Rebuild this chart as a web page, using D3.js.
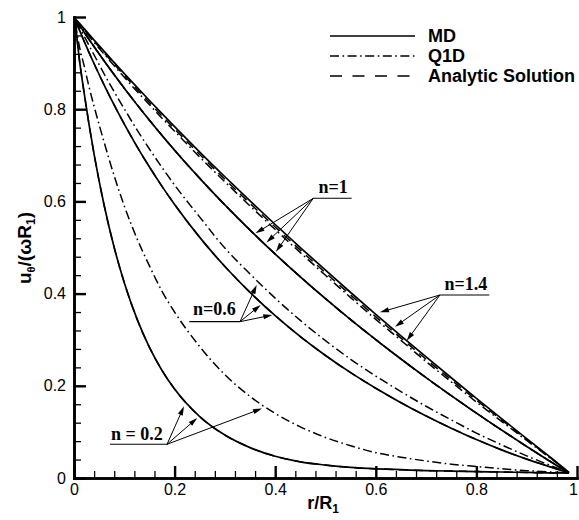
<!DOCTYPE html>
<html><head><meta charset="utf-8">
<script src="https://cdn.jsdelivr.net/npm/d3@7"></script>
<style>body{margin:0;background:#fff} svg{display:block}</style>
</head><body>
<svg id="c" width="579" height="520"></svg>
<script>
// ---------- data ----------
const rR = [0.003, 0.01, 0.02, 0.03, 0.04, 0.06, 0.08, 0.1, 0.125, 0.15, 0.175, 0.2, 0.25, 0.3, 0.35, 0.4, 0.45, 0.5, 0.55, 0.6, 0.65, 0.7, 0.75, 0.8, 0.85, 0.9, 0.95, 0.984];

const n02MD  = [0.985, 0.914, 0.8365, 0.766, 0.702, 0.591, 0.4996, 0.4234, 0.3456, 0.2834, 0.2333, 0.1929, 0.1331, 0.0931, 0.0659, 0.0471, 0.035, 0.028, 0.023, 0.020, 0.018, 0.016, 0.015, 0.014, 0.013, 0.012, 0.011, 0.011];
const n02Q1D = [0.985, 0.94, 0.895, 0.848, 0.806, 0.728, 0.655, 0.59, 0.52, 0.46, 0.405, 0.36, 0.285, 0.224, 0.177, 0.14, 0.111, 0.088, 0.07, 0.055, 0.045, 0.037, 0.03, 0.025, 0.02, 0.016, 0.013, 0.011];
const n02An  = [0.985, 0.914, 0.8365, 0.766, 0.702, 0.591, 0.4996, 0.4234, 0.3456, 0.2834, 0.2333, 0.1929, 0.1331, 0.0931, 0.0659, 0.0471, 0.035, 0.028, 0.023, 0.020, 0.018, 0.016, 0.015, 0.014, 0.013, 0.012, 0.011, 0.011];

const n06MD  = [0.99, 0.9735, 0.9478, 0.9228, 0.8986, 0.8524, 0.8088, 0.7677, 0.7195, 0.6746, 0.6326, 0.5934, 0.5219, 0.4587, 0.4025, 0.3521, 0.3068, 0.2658, 0.2285, 0.1946, 0.1634, 0.1346, 0.1081, 0.0834, 0.061, 0.041, 0.023, 0.011];
const n06Q1D = [0.99, 0.9785, 0.9588, 0.9378, 0.9176, 0.8764, 0.8378, 0.8007, 0.7555, 0.7136, 0.6736, 0.6354, 0.5659, 0.4987, 0.4425, 0.3901, 0.3418, 0.2978, 0.2575, 0.2211, 0.1874, 0.1556, 0.1261, 0.0974, 0.072, 0.048, 0.026, 0.011];
const n06An  = [0.99, 0.9735, 0.9478, 0.9228, 0.8986, 0.8524, 0.8088, 0.7677, 0.7195, 0.6746, 0.6326, 0.5934, 0.5219, 0.4587, 0.4025, 0.3521, 0.3068, 0.2658, 0.2285, 0.1946, 0.1634, 0.1346, 0.1081, 0.0834, 0.061, 0.041, 0.023, 0.011];

const n1MD   = [0.993, 0.9835, 0.9672, 0.9512, 0.9354, 0.9045, 0.8746, 0.8455, 0.8102, 0.7761, 0.7431, 0.7111, 0.65, 0.5923, 0.5377, 0.4857, 0.4362, 0.3889, 0.3436, 0.3, 0.2581, 0.2176, 0.1786, 0.1407, 0.1041, 0.0684, 0.0338, 0.011];
const n1Q1D  = [0.993, 0.9835, 0.9672, 0.9512, 0.9354, 0.9045, 0.8746, 0.8455, 0.8102, 0.7761, 0.7431, 0.7111, 0.65, 0.5923, 0.5377, 0.4857, 0.4362, 0.3889, 0.3436, 0.3, 0.2581, 0.2176, 0.1786, 0.1407, 0.1041, 0.0684, 0.0338, 0.011];
const n1An   = [0.993, 0.9835, 0.9672, 0.9512, 0.9354, 0.9045, 0.8746, 0.8455, 0.8102, 0.7761, 0.7431, 0.7111, 0.65, 0.5923, 0.5377, 0.4857, 0.4362, 0.3889, 0.3436, 0.3, 0.2581, 0.2176, 0.1786, 0.1407, 0.1041, 0.0684, 0.0338, 0.011];

const n14MD  = [0.995, 0.9873, 0.9747, 0.9622, 0.9498, 0.9253, 0.9011, 0.8772, 0.8478, 0.8188, 0.7903, 0.7622, 0.7071, 0.6535, 0.6011, 0.5499, 0.4998, 0.4507, 0.4024, 0.3551, 0.3085, 0.2626, 0.2174, 0.1728, 0.1288, 0.0854, 0.0425, 0.012];
const n14Q1D = [0.995, 0.9853, 0.9717, 0.9582, 0.9448, 0.9193, 0.8941, 0.8692, 0.8388, 0.8098, 0.7803, 0.7522, 0.6961, 0.6425, 0.5901, 0.5389, 0.4888, 0.4397, 0.3914, 0.3441, 0.2985, 0.2526, 0.2084, 0.1648, 0.1228, 0.0814, 0.0405, 0.012];
const n14An  = [0.995, 0.9863, 0.9732, 0.9602, 0.9473, 0.9223, 0.8976, 0.8732, 0.8433, 0.8143, 0.7853, 0.7572, 0.7016, 0.648, 0.5956, 0.5444, 0.4943, 0.4452, 0.3969, 0.3496, 0.3035, 0.2576, 0.2129, 0.1688, 0.1258, 0.0834, 0.0415, 0.012];

const legendNames = ["MD", "Q1D", "Analytic Solution"];
const xMajor = [0, 0.2, 0.4, 0.6, 0.8, 1];
const xTickLabels = ["0", "0.2", "0.4", "0.6", "0.8", "1"];
const yMajor = [0, 0.2, 0.4, 0.6, 0.8, 1];
const yTickLabels = ["0", "0.2", "0.4", "0.6", "0.8", "1"];
const minorStep = 0.04;

const annLabels = ["n=1", "n=1.4", "n=0.6", "n = 0.2"];
const annTextPos = [[0.515, 0.618], [0.779, 0.408], [0.279, 0.3536], [0.125, 0.0824]];
const annLineX = [[0.4757, 0.552], [0.7276, 0.8257], [0.2292, 0.33], [0.0716, 0.1849]];
const annLineY = [0.6067, 0.397, 0.3391, 0.0731];
const annBase = [[0.4757, 0.6067], [0.7276, 0.397], [0.33, 0.3391], [0.1849, 0.0731]];
const annTips = [
  [[0.3608, 0.5308], [0.3827, 0.5108], [0.4016, 0.4909]],
  [[0.6083, 0.3594], [0.6382, 0.3282], [0.6614, 0.2978]],
  [[0.3632, 0.4187], [0.3711, 0.3753], [0.3943, 0.3536]],
  [[0.2187, 0.1554], [0.2451, 0.1302], [0.3738, 0.1508]]
];

// ---------- drawing ----------
const svg = d3.select("#c");
const x = d3.scaleLinear().domain([0, 1]).range([74, 577]);
const y = d3.scaleLinear().domain([0, 1]).range([478, 17]);

const styles = {
  MD:  {dash: null, w: 1.7},
  Q1D: {dash: "9,3.5,1.6,3.5", w: 1.5},
  An:  {dash: "9,6", w: 1.5}
};
const series = [
  {v: n02An, s: "An"}, {v: n06An, s: "An"}, {v: n1An, s: "An"}, {v: n14An, s: "An"},
  {v: n02Q1D, s: "Q1D"}, {v: n06Q1D, s: "Q1D"}, {v: n1Q1D, s: "Q1D"}, {v: n14Q1D, s: "Q1D"},
  {v: n02MD, s: "MD"}, {v: n06MD, s: "MD"}, {v: n1MD, s: "MD"}, {v: n14MD, s: "MD"}
];
const line = d3.line().x((d, i) => x(rR[i])).y(d => y(d)).curve(d3.curveMonotoneX);
svg.append("g").selectAll("path").data(series).join("path")
  .attr("d", d => line(d.v))
  .attr("fill", "none").attr("stroke", "#000")
  .attr("stroke-width", d => styles[d.s].w)
  .attr("stroke-dasharray", d => styles[d.s].dash);

// axes
const fontTick = '16px "Liberation Sans", Arial, sans-serif';
const xMinor = d3.range(0, 1.0001, minorStep).filter(v => !xMajor.some(m => Math.abs(m - v) < 1e-6));
const yMinor = d3.range(0, 1.0001, minorStep).filter(v => !yMajor.some(m => Math.abs(m - v) < 1e-6));

function styleAxis(g, tw) {
  g.select(".domain").attr("stroke", "#000").attr("stroke-width", 2.6);
  g.selectAll(".tick line").attr("stroke", "#000").attr("stroke-width", tw);
  g.selectAll(".tick text").style("font", fontTick).attr("fill", "#000");
}
const gxm = svg.append("g").attr("transform", `translate(0,${y(0)})`)
  .call(d3.axisBottom(x).tickValues(xMinor).tickSize(-7).tickSizeOuter(0).tickFormat(""));
styleAxis(gxm, 1.3);
const gx = svg.append("g").attr("transform", `translate(0,${y(0)})`)
  .call(d3.axisBottom(x).tickValues(xMajor).tickSize(-12).tickSizeOuter(0).tickPadding(6)
    .tickFormat((d, i) => xTickLabels[i]));
styleAxis(gx, 2.4);
gx.selectAll(".tick text").filter(d => d === 1).attr("dx", -4);
const gym = svg.append("g").attr("transform", `translate(${x(0)},0)`)
  .call(d3.axisLeft(y).tickValues(yMinor).tickSize(-7).tickSizeOuter(0).tickFormat(""));
styleAxis(gym, 1.3);
const gy = svg.append("g").attr("transform", `translate(${x(0)},0)`)
  .call(d3.axisLeft(y).tickValues(yMajor).tickSize(-12).tickSizeOuter(0).tickPadding(8)
    .tickFormat((d, i) => yTickLabels[i]));
styleAxis(gy, 2.4);
svg.selectAll(".domain").attr("stroke-linecap", "square");

// axis titles
const xl = svg.append("text").attr("x", 323).attr("y", 509).attr("text-anchor", "middle")
  .style("font", 'bold 18px "Liberation Sans", Arial, sans-serif');
xl.append("tspan").text("r/R");
xl.append("tspan").attr("font-size", 12).attr("dy", 4).text("1");

const yl = svg.append("text").attr("transform", "translate(31,248) rotate(-90)").attr("text-anchor", "middle")
  .style("font", 'bold 19px "Liberation Sans", Arial, sans-serif');
yl.append("tspan").text("u");
yl.append("tspan").attr("font-size", 11).attr("dy", 4).text("θ");
yl.append("tspan").attr("dy", -4).text("/(ωR");
yl.append("tspan").attr("font-size", 12).attr("dy", 4).text("1");
yl.append("tspan").attr("dy", -4).text(")");

// legend
const legKeys = ["MD", "Q1D", "An"];
const lg = svg.append("g");
legendNames.forEach((name, i) => {
  const ly = 36 + i * 20;
  lg.append("line").attr("x1", 330).attr("x2", 415).attr("y1", ly).attr("y2", ly)
    .attr("stroke", "#000").attr("stroke-width", 1.5)
    .attr("stroke-dasharray", legKeys[i] === "An" ? "12,10.5" : styles[legKeys[i]].dash);
  lg.append("text").attr("x", 428).attr("y", ly).attr("dy", "0.35em")
    .style("font", 'bold 18px "Liberation Sans", Arial, sans-serif').text(name);
});

// annotations
const ag = svg.append("g");
annLabels.forEach((lab, k) => {
  ag.append("text").attr("x", x(annTextPos[k][0])).attr("y", y(annTextPos[k][1]))
    .attr("text-anchor", "middle")
    .style("font", 'bold 18px "Liberation Serif", "Times New Roman", serif').text(lab);
  ag.append("line").attr("x1", x(annLineX[k][0])).attr("x2", x(annLineX[k][1]))
    .attr("y1", y(annLineY[k])).attr("y2", y(annLineY[k]))
    .attr("stroke", "#000").attr("stroke-width", 1.1);
  const bx = x(annBase[k][0]), by = y(annBase[k][1]);
  annTips[k].forEach(t => {
    const tx = x(t[0]), ty = y(t[1]);
    const dx = tx - bx, dy = ty - by, L = Math.hypot(dx, dy);
    const ux = dx / L, uy = dy / L, hl = 9, hw = 2.6;
    ag.append("line").attr("x1", bx).attr("y1", by).attr("x2", tx - ux * hl * 0.8).attr("y2", ty - uy * hl * 0.8)
      .attr("stroke", "#000").attr("stroke-width", 1);
    const p1 = [tx, ty], p2 = [tx - ux * hl - uy * hw, ty - uy * hl + ux * hw], p3 = [tx - ux * hl + uy * hw, ty - uy * hl - ux * hw];
    ag.append("polygon").attr("points", [p1, p2, p3].map(p => p.join(",")).join(" ")).attr("fill", "#000");
  });
});
</script>
</body></html>
